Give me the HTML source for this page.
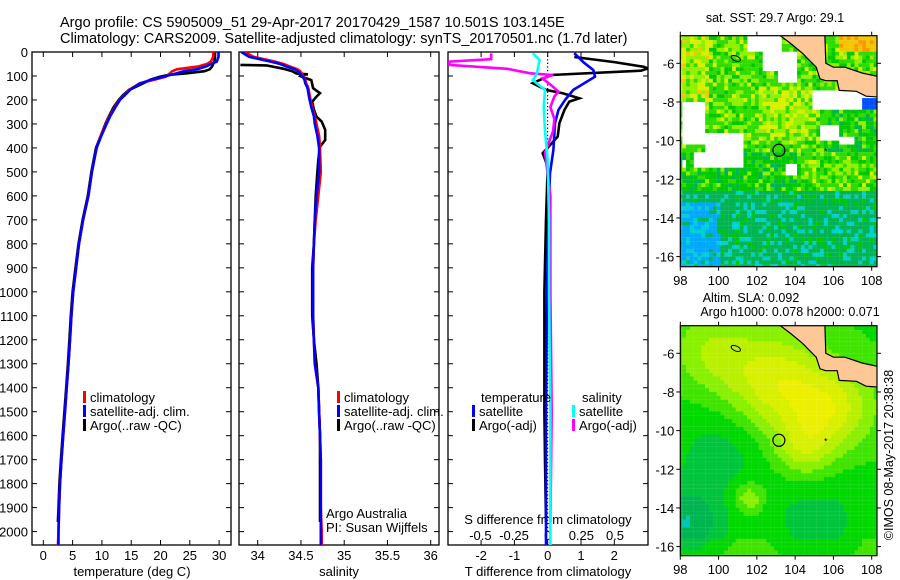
<!DOCTYPE html>
<html><head><meta charset="utf-8">
<style>
html,body{margin:0;padding:0;background:#fff;}
svg{display:block;font-family:"Liberation Sans",Arial,sans-serif;}
text{font-size:13px;fill:#000;}
</style></head>
<body>
<svg id="fig" width="900" height="580" viewBox="0 0 900 580" xmlns="http://www.w3.org/2000/svg">
<text x="60" y="27" style="font-size:14.5px">Argo profile: CS 5905009_51 29-Apr-2017 20170429_1587 10.501S 103.145E</text>
<text x="60" y="43" style="font-size:14.5px">Climatology: CARS2009. Satellite-adjusted climatology: synTS_20170501.nc (1.7d later)</text>
<g id="p1"></g>
<g id="p2"></g>
<g id="p3"></g>
<g id="m1"></g>
<g id="m2"></g>
<text x="775" y="22" text-anchor="middle" style="font-size:12.5px">sat. SST: 29.7 Argo: 29.1</text>
<text x="751" y="302" text-anchor="middle" style="font-size:12.5px">Altim. SLA: 0.092</text>
<text x="790" y="316" text-anchor="middle" style="font-size:12.5px">Argo h1000: 0.078 h2000: 0.071</text>
<text transform="translate(893,455) rotate(-90)" text-anchor="middle" style="font-size:12.5px">©IMOS 08-May-2017 20:38:38</text>
</svg>
<script>
// ---------- data ----------
const climDepth=[0,20,40,50,60,72,80,89,103,115,131,145,158,180,199,230,268,300,350,400,500,600,700,800,900,1000,1100,1200,1300,1400,1500,1600,1700,1800,1900,2000,2060];
const climTemp=[29.0,29.0,28.6,27.9,26.5,22.8,22.0,21.6,20.9,19.0,16.4,15.5,14.6,13.8,13.0,12.2,11.3,10.7,9.8,9.1,8.3,7.7,6.8,6.1,5.6,5.1,4.8,4.55,4.3,4.0,3.7,3.4,3.1,2.85,2.7,2.6,2.5];
const satTemp=[29.9,29.9,29.6,28.6,27.8,26.2,24.0,22.8,20.5,18.5,16.5,15.6,14.8,13.9,13.1,12.3,11.4,10.8,9.9,9.1,8.3,7.7,6.8,6.1,5.6,5.1,4.8,4.55,4.3,4.0,3.7,3.4,3.1,2.85,2.7,2.6,2.6];
const argoTDepth=[3,20,40,50,60,72,80,89,95,103,115,131,145,158,180,199,230,268,300,350,400,500,600,700,800,900,1000,1100,1200,1300,1400,1500,1600,1700,1800,1900,1960];
const argoTemp=[29.3,29.3,29.2,29.0,28.8,28.4,27.5,24.5,21.5,19.9,18.3,17.0,15.8,14.6,13.6,12.9,12.0,11.2,10.6,9.8,9.0,8.2,7.6,6.7,6.0,5.5,5.0,4.7,4.45,4.2,3.9,3.6,3.3,3.0,2.75,2.6,2.5];
const climSal=[33.85,33.95,34.2,34.3,34.37,34.46,34.49,34.51,34.53,34.55,34.56,34.58,34.59,34.6,34.61,34.63,34.66,34.68,34.71,34.72,34.73,34.7,34.67,34.65,34.64,34.64,34.64,34.65,34.66,34.7,34.71,34.72,34.73,34.73,34.73,34.74,34.74];
const satSal=[33.81,33.9,34.15,34.26,34.33,34.43,34.46,34.49,34.52,34.54,34.55,34.57,34.58,34.59,34.6,34.62,34.65,34.66,34.69,34.71,34.71,34.68,34.66,34.65,34.64,34.64,34.64,34.65,34.66,34.7,34.71,34.72,34.73,34.73,34.73,34.73,34.73];
const argoSDepth=[54,56,60,70,80,90,93,96,100,117,151,172,186,207,240,270,290,325,367,395,450,500,600,700,800,900,1000,1100,1200,1300,1400,1500,1600,1700,1800,1900,1960];
const argoSal=[33.8,34.1,34.16,34.3,34.4,34.45,34.58,34.5,34.49,34.62,34.64,34.72,34.68,34.63,34.65,34.68,34.74,34.78,34.78,34.72,34.7,34.69,34.67,34.66,34.65,34.63,34.63,34.63,34.65,34.68,34.7,34.71,34.72,34.72,34.72,34.72,34.72];
const tSatDepth=[5,42,75,103,158,200,242,297,408,506,700,1000,1500,2000,2060];
const tSatDiff=[0.8,1.07,1.37,1.42,0.77,0.52,0.32,0.22,0.17,0.07,0.02,-0.02,-0.05,-0.05,-0.05];
const tArgoDepth=[21,42,62,69,78,96,130,158,172,193,207,242,297,353,422,478,700,1000,1300,1500,1700,1960];
const tArgoDiff=[0.8,2.0,2.9,3.0,2.8,0.1,-0.45,-0.05,0.45,0.95,0.65,0.5,0.35,0.3,-0.15,0,-0.05,-0.1,-0.1,-0.1,-0.08,-0.05];
const sSatDepth=[6,33,89,117,158,228,330,450,700,1000,1500,2000,2060];
const sSatDiff=[-0.11,-0.06,-0.08,-0.11,-0.02,-0.03,-0.02,0,0.01,0.01,0.02,0.02,0.02];
const sArgoDepth=[6,30,40,54,70,89,96,110,140,165,185,230,280,330,420,600,1000,1500,1960];
const sArgoDiff=[-0.42,-0.42,-0.73,-0.73,-0.3,-0.13,0.04,-0.04,0.03,0.08,0.05,0.02,0.05,0.04,-0.02,0.02,0.02,0.03,0.02];
const depthTicks=[0,100,200,300,400,500,600,700,800,900,1000,1100,1200,1300,1400,1500,1600,1700,1800,1900,2000];
const tempTicks=[0,5,10,15,20,25,30];
const salTicks=[34,34.5,35,35.5,36];
const tDiffTicks=[-2,-1,0,1,2];
const sDiffTicks=[-0.5,-0.25,0,0.25,0.5];
const lonTicks=[98,100,102,104,106,108];
const latTicks=[-6,-8,-10,-12,-14,-16];

// ---------- helpers ----------
const NS='http://www.w3.org/2000/svg';
function mk(parent,tag,attrs,txt){const e=document.createElementNS(NS,tag);for(const k in attrs)e.setAttribute(k,attrs[k]);if(txt!==undefined)e.textContent=txt;parent.appendChild(e);return e;}
const TOP=52,BOT=545;
const yD=d=>TOP+d*0.2398;
const xT=t=>43.3+t*5.86;
const xS=s=>257.7+(s-34)*86.5;
const xTd=t=>547.7+t*33.3;
const xSd=s=>547.7+s*134.6;

function frame(g,x0,x1,name){
  const r=mk(g,'rect',{x:x0,y:TOP,width:x1-x0,height:BOT-TOP,fill:'none',stroke:'#000','stroke-width':1.3});
  
  
  depthTicks.forEach(d=>{
    mk(g,'line',{x1:x0,x2:x0+5,y1:yD(d),y2:yD(d),stroke:'#000'});
    mk(g,'line',{x1:x1-5,x2:x1,y1:yD(d),y2:yD(d),stroke:'#000'});
  });
}
function series(g,xs,ds,xf,color,x0,x1,name,w){
  const cid='c'+name;
  const cp=mk(g,'clipPath',{id:cid});mk(cp,'rect',{x:x0,y:TOP,width:x1-x0,height:BOT-TOP});
  const pts=ds.map((d,i)=>xf(xs[i]).toFixed(1)+','+yD(d).toFixed(1)).join(' ');
  const p=mk(g,'polyline',{points:pts,fill:'none',stroke:color,'stroke-width':w||2.6,'clip-path':'url(#'+cid+')','stroke-linejoin':'miter'});
  
  
}
function legend(g,x,y,color,label,name){
  mk(g,'rect',{x:x,y:y-11,width:3,height:12,fill:color});
  const t=mk(g,'text',{x:x+7,y:y},label);
  
  
}

// ---------- panel 1 ----------
const p1=document.getElementById('p1');
frame(p1,32,231,'temperature-plot-frame');
depthTicks.forEach(d=>{const t=mk(p1,'text',{x:28,y:yD(d)+5,'text-anchor':'end'},String(d));
  
  });
tempTicks.forEach(v=>{mk(p1,'line',{x1:xT(v),x2:xT(v),y1:TOP,y2:TOP+5,stroke:'#000'});mk(p1,'line',{x1:xT(v),x2:xT(v),y1:BOT-5,y2:BOT,stroke:'#000'});
  const t=mk(p1,'text',{x:xT(v),y:560,'text-anchor':'middle'},String(v));
  
  });
mk(p1,'text',{x:132,y:576,'text-anchor':'middle'},'temperature (deg C)');
series(p1,argoTemp,argoTDepth,xT,'#000',32,231,'argo-temperature-line');
series(p1,climTemp,climDepth,xT,'#f00',32,231,'climatology-temperature-line');
series(p1,satTemp,climDepth,xT,'#00f',32,231,'satellite-temperature-line');
legend(p1,83,402,'#f00','climatology','legend-climatology');
legend(p1,83,416,'#00f','satellite-adj. clim.','legend-satellite-adj');
legend(p1,83,430,'#000','Argo(..raw -QC)','legend-argo');

// ---------- panel 2 ----------
const p2=document.getElementById('p2');
frame(p2,239,439,'salinity-plot-frame');
salTicks.forEach(v=>{mk(p2,'line',{x1:xS(v),x2:xS(v),y1:TOP,y2:TOP+5,stroke:'#000'});mk(p2,'line',{x1:xS(v),x2:xS(v),y1:BOT-5,y2:BOT,stroke:'#000'});
  const t=mk(p2,'text',{x:xS(v),y:560,'text-anchor':'middle'},String(v));
  
  });
mk(p2,'text',{x:339,y:576,'text-anchor':'middle'},'salinity');
series(p2,argoSal,argoSDepth,xS,'#000',239,439,'argo-salinity-line');
series(p2,climSal,climDepth,xS,'#f00',239,439,'climatology-salinity-line');
series(p2,satSal,climDepth,xS,'#00f',239,439,'satellite-salinity-line');
legend(p2,337,402,'#f00','climatology','legend-climatology-s');
legend(p2,337,416,'#00f','satellite-adj. clim.','legend-satellite-adj-s');
legend(p2,337,430,'#000','Argo(..raw -QC)','legend-argo-s');
mk(p2,'text',{x:326,y:518},'Argo Australia');
mk(p2,'text',{x:326,y:532},'PI: Susan Wijffels');

// ---------- panel 3 ----------
const p3=document.getElementById('p3');
frame(p3,448,648,'difference-plot-frame');
for(let d=0;d<=2000;d+=15)mk(p3,'rect',{x:547,y:yD(d),width:1.2,height:1.2,fill:'#000'});
tDiffTicks.forEach(v=>{mk(p3,'line',{x1:xTd(v),x2:xTd(v),y1:TOP,y2:TOP+5,stroke:'#000'});mk(p3,'line',{x1:xTd(v),x2:xTd(v),y1:BOT-5,y2:BOT,stroke:'#000'});
  const t=mk(p3,'text',{x:xTd(v),y:560,'text-anchor':'middle'},String(v));
  
  });
sDiffTicks.forEach(v=>{const t=mk(p3,'text',{x:xSd(v),y:540,'text-anchor':'middle'},String(v));
  
  });
mk(p3,'text',{x:548,y:524,'text-anchor':'middle'},'S difference from climatology');
mk(p3,'text',{x:548,y:576,'text-anchor':'middle'},'T difference from climatology');
series(p3,tArgoDiff,tArgoDepth,xTd,'#000',448,648,'argo-t-diff-line');
series(p3,tSatDiff,tSatDepth,xTd,'#00f',448,648,'satellite-t-diff-line');
series(p3,sArgoDiff,sArgoDepth,xSd,'#f0f',448,648,'argo-s-diff-line');
series(p3,sSatDiff,sSatDepth,xSd,'#0ff',448,648,'satellite-s-diff-line');
mk(p3,'text',{x:481,y:402},'temperature');
legend(p3,472,416,'#00f','satellite','legend-t-satellite');
legend(p3,472,430,'#000','Argo(-adj)','legend-t-argo');
mk(p3,'text',{x:582,y:402},'salinity');
legend(p3,572,416,'#0ff','satellite','legend-s-satellite');
legend(p3,572,430,'#f0f','Argo(-adj)','legend-s-argo');

// ---------- maps ----------
const land=[[103.0,-4.4],[103.8,-5.0],[104.4,-5.5],[104.7,-5.8],[105.1,-6.2],[105.3,-6.8],[105.6,-6.9],[106.2,-6.9],[106.3,-7.4],[107.2,-7.45],[107.7,-7.7],[108.4,-7.75],[108.4,-6.7],[107.5,-6.5],[106.6,-6.2],[106.0,-6.2],[105.6,-6.0],[105.55,-4.4]];
function hash(i,j){let h=(i*374761393+j*668265263)^0x5bd1e995;h=(h^(h>>>13))*1274126177;h=h^(h>>>16);return ((h>>>0)%1000)/1000;}
function drawMap(gid,top,bottom,fieldFn,labelY,prefix){
  const g=document.getElementById(gid);
  const L=680.3,R=877,lx=v=>L+(v-98)*19.14;
  const ly=v=>top+27.6+(-6-v)*19.33;
  const cid='clip'+gid;
  const cp=mk(g,'clipPath',{id:cid});mk(cp,'rect',{x:L,y:top,width:R-L,height:bottom-top});
  const cells=mk(g,'g',{'clip-path':'url(#'+cid+')'});
  
  
  const step=0.2;
  for(let i=0;i<52;i++)for(let j=0;j<62;j++){
    const lon=98-0.1+i*step, lat=-4.4-j*step;
    const c=fieldFn(lon,lat,i,j); if(!c)continue;
    mk(cells,'rect',{x:lx(lon).toFixed(2),y:ly(lat).toFixed(2),width:3.95,height:3.95,fill:c});
  }
  const lp=mk(cells,'polygon',{points:land.map(p=>lx(p[0]).toFixed(1)+','+ly(p[1]).toFixed(1)).join(' '),fill:'#fdc896',stroke:'#000','stroke-width':1.2});
  
  
  mk(cells,'ellipse',{cx:lx(100.9),cy:ly(-5.75),rx:5,ry:2.5,fill:'none',stroke:'#000','stroke-width':1,transform:'rotate(25 '+lx(100.9)+' '+ly(-5.75)+')'});
  const ci=mk(g,'circle',{cx:lx(103.15),cy:ly(-10.5),r:6,fill:'none',stroke:'#000','stroke-width':1.2});
  
  
  mk(g,'text',{x:lx(105.6),y:ly(-10.5)+4,'text-anchor':'middle',style:'font-size:9px'},'*');
  mk(g,'rect',{x:L,y:top,width:R-L,height:bottom-top,fill:'none',stroke:'#000','stroke-width':1.2});
  lonTicks.forEach(v=>{mk(g,'line',{x1:lx(v),x2:lx(v),y1:top,y2:top-4,stroke:'#000'});mk(g,'line',{x1:lx(v),x2:lx(v),y1:bottom,y2:bottom+4,stroke:'#000'});
    const t=mk(g,'text',{x:lx(v),y:labelY,'text-anchor':'middle'},String(v));
    
    });
  latTicks.forEach(v=>{mk(g,'line',{x1:L-4,x2:L,y1:ly(v),y2:ly(v),stroke:'#000'});mk(g,'line',{x1:R,x2:R+4,y1:ly(v),y2:ly(v),stroke:'#000'});
    const t=mk(g,'text',{x:L-6,y:ly(v)+5,'text-anchor':'end'},String(v));
    
    });
}
const sstPal=['#0000c8','#0050ff','#00a8ff','#00d0d0','#00b450','#00c800','#30dc00','#90f000','#d8f000','#f0c800','#ff9600'];
const clouds=[[98,99.3,-7.9,-10.1],[98.7,101.3,-10.5,-11.3],[99.3,101.3,-9.6,-10.5],[101.5,103.2,-4.3,-5.4],[102.2,104.1,-5.4,-6.3],[103.0,104.1,-6.3,-7.0],[104.8,107.4,-7.4,-8.3],[107.4,108.4,-7.1,-7.8],[105.3,106.2,-9.1,-10.0],[106.2,107.0,-9.75,-10.2],[103.5,104.1,-11.2,-11.8],[98,98.3,-11.0,-11.3]];
function sstField(lon,lat,i,j){
  for(const c of clouds){if(lon>=c[0]&&lon<c[1]&&lat<=c[2]&&lat>c[3])return null;}
  if(lon>=107.4&&lat<=-7.8&&lat>-8.3)return sstPal[1];
  let m;
  if(lat>-10.5){m=6.3; if(lon<99.5&&lat>-8.5)m=7.3; if(lon>102&&lon<105&&lat<-7&&lat>-10)m=6.8; if(lat>-5.3&&lon>106.3)m=9.6; if(lon>105.5&&lat<-8.2)m=5.6;}
  else if(lat>-12.5){m=5.1;if(lon>104)m=5.9;}
  else {m=3.9;if(lon<100&&lat<-13)m=2.6;}
  const n=hash(i,j);let v=m+(n<0.2?-1:n<0.65?0:n<0.9?1:2)*(m>5?0.9:0.7)-0.2;
  v=Math.max(0,Math.min(10,Math.round(v)));
  return sstPal[v];
}
const slaPal=['#00c8b4','#00b450','#00c43c','#00d800','#40e400','#88f000','#b8f000','#d8f000','#ecf000'];
const gauss=[[102.7,-7.3,1.8,0.45],[105.7,-8.8,1.6,0.45],[104.3,-10.9,1.1,0.3],[99.5,-5.8,1.4,0.25],[101.5,-13.4,0.6,0.3],[98.2,-14.7,1.3,-0.35],[100.0,-11.0,1.8,-0.16],[105,-14.3,2.2,-0.14]];
function slaField(lon,lat){
  let f=0.42;
  for(const g of gauss){const dx=lon-g[0],dy=lat-g[1];f+=g[3]*Math.exp(-(dx*dx+dy*dy)/(2*g[2]*g[2]));}
  if(lat<-15.5)f+=0.08;
  const k=Math.max(0,Math.min(8,Math.round(f*8)));
  return slaPal[k];
}
drawMap('m1',35.7,266.7,sstField,285,'sst-map');
drawMap('m2',325.7,555.7,slaField,574,'sla-map');
</script>
</body></html>
